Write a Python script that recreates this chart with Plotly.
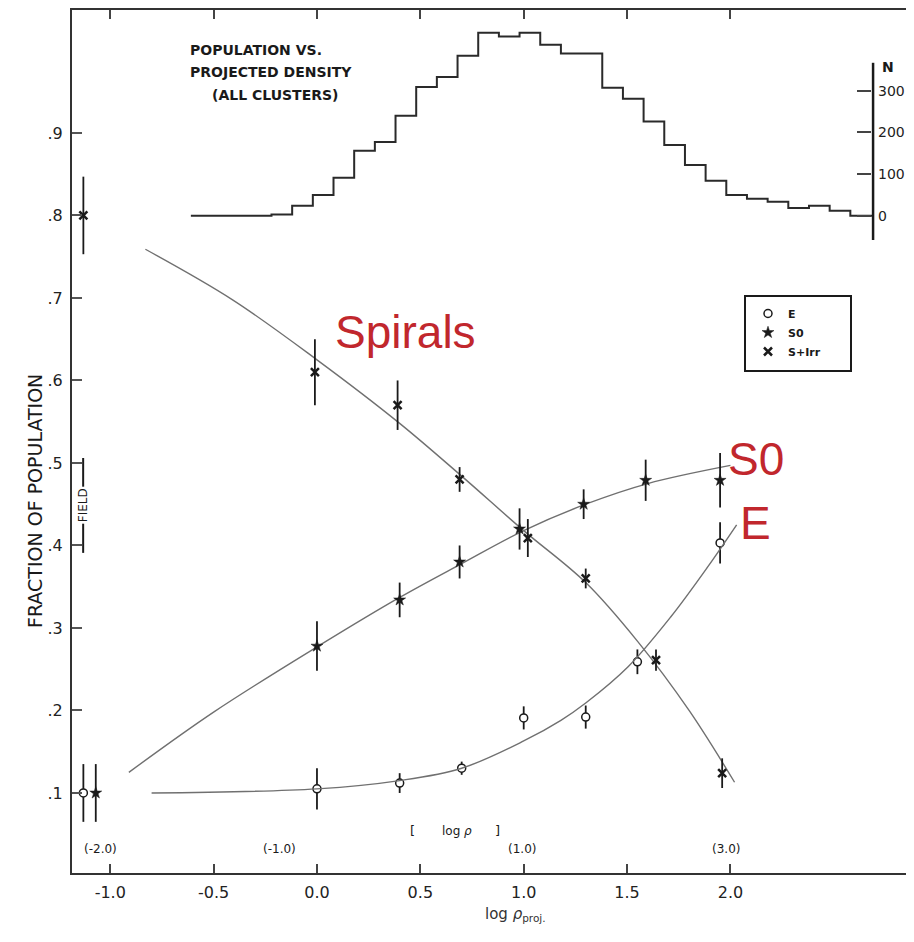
import plotly.graph_objects as go

# ---------------- data ----------------
# Elliptical (E) fractions, first point = field
e_x = [-1.13, 0.00, 0.40, 0.70, 1.00, 1.30, 1.55, 1.95]
e_y = [0.100, 0.105, 0.112, 0.130, 0.191, 0.192, 0.259, 0.403]
e_err = [0.035, 0.025, 0.012, 0.008, 0.014, 0.014, 0.015, 0.025]

# S0 fractions
s0_x = [-1.07, 0.00, 0.40, 0.69, 0.98, 1.29, 1.59, 1.95]
s0_y = [0.100, 0.278, 0.334, 0.380, 0.420, 0.450, 0.479, 0.479]
s0_err = [0.035, 0.030, 0.021, 0.020, 0.025, 0.018, 0.025, 0.033]

# Spiral + Irregular fractions
sp_x = [-1.13, -0.01, 0.39, 0.69, 1.02, 1.30, 1.64, 1.96]
sp_y = [0.800, 0.610, 0.570, 0.480, 0.409, 0.360, 0.261, 0.124]
sp_err = [0.047, 0.040, 0.030, 0.015, 0.023, 0.012, 0.013, 0.018]

# smooth fitted curves
sp_curve_x = [-0.83, -0.41, 0.00, 0.40, 0.70, 1.00, 1.30, 1.55, 1.80, 2.02]
sp_curve_y = [0.759, 0.698, 0.625, 0.548, 0.484, 0.418, 0.355, 0.284, 0.200, 0.113]
s0_curve_x = [-0.91, -0.50, 0.00, 0.40, 0.70, 1.00, 1.30, 1.60, 2.00]
s0_curve_y = [0.125, 0.198, 0.277, 0.337, 0.378, 0.418, 0.450, 0.475, 0.497]
e_curve_x = [-0.80, 0.00, 0.40, 0.70, 1.00, 1.18, 1.30, 1.505, 1.71, 1.89, 2.03]
e_curve_y = [0.100, 0.105, 0.115, 0.130, 0.163, 0.188, 0.209, 0.253, 0.313, 0.374, 0.425]

# inset histogram: number of galaxies per 0.1 dex bin (left bin edges)
hist_edges = [-0.22, -0.12, -0.02, 0.08, 0.18, 0.28, 0.38, 0.48, 0.58, 0.68,
              0.78, 0.88, 0.98, 1.08, 1.18, 1.28, 1.38, 1.48, 1.58, 1.68,
              1.78, 1.88, 1.98, 2.08, 2.18, 2.28, 2.38, 2.48]
hist_counts = [3, 24, 50, 91, 156, 177, 240, 309, 333, 384,
               439, 430, 439, 410, 389, 389, 307, 281, 226, 170,
               122, 84, 50, 41, 34, 19, 24, 12]
hist_last_edge = 2.58
hist_base_start = -0.61
hist_base_end = 2.69

x_ticks = [-1.0, -0.5, 0.0, 0.5, 1.0, 1.5, 2.0]
x_ticklabels = ["-1.0", "-0.5", "0.0", "0.5", "1.0", "1.5", "2.0"]
y_ticks = [0.1, 0.2, 0.3, 0.4, 0.5, 0.6, 0.7, 0.8, 0.9]
y_ticklabels = [".1", ".2", ".3", ".4", ".5", ".6", ".7", ".8", ".9"]
n_ticks = [0, 100, 200, 300]
n_ticklabels = ["0", "100", "200", "300"]
# 3-D density labels along the bottom axis
rho_label_x = [-1.045, -0.18, 0.99, 1.98]
rho_labels = ["(-2.0)", "(-1.0)", "(1.0)", "(3.0)"]

# ---------------- layout helpers ----------------
OFF = 8                      # page body margin
PW, PH = 914, 942            # window size
W, H = PW - OFF, PH - OFF    # figure size
# plot area in page pixels
PL, PR, PT, PB = 72, 914, 10, 873
L = PL - OFF
T = PT - OFF
R = W - (PR - OFF)
B = H - (PB - OFF)


def xp(px):
    return (px - PL) / (PR - PL)


def yp(py):
    return (PB - py) / (PB - PT)


INK = "#1a1a1a"
CURVE = "#707070"
RED = "#C1272D"
FONT = "DejaVu Sans"

fig = go.Figure()

# curves (E curve on the mirrored right axis, which has the same scale)
fig.add_trace(go.Scatter(x=sp_curve_x, y=sp_curve_y, mode="lines",
                         line=dict(color=CURVE, width=1.4, shape="spline", smoothing=1.0),
                         showlegend=False, hoverinfo="skip"))
fig.add_trace(go.Scatter(x=s0_curve_x, y=s0_curve_y, mode="lines",
                         line=dict(color=CURVE, width=1.4, shape="spline", smoothing=1.0),
                         showlegend=False, hoverinfo="skip"))
fig.add_trace(go.Scatter(x=e_curve_x, y=e_curve_y, mode="lines", yaxis="y3",
                         line=dict(color=CURVE, width=1.4, shape="spline", smoothing=1.0),
                         showlegend=False, hoverinfo="skip"))

# points with error bars
fig.add_trace(go.Scatter(
    x=e_x, y=e_y, mode="markers", name="<b>E</b>",
    marker=dict(symbol="circle", size=8, color="white", line=dict(color=INK, width=1.5)),
    error_y=dict(type="data", array=e_err, visible=True, width=0, thickness=1.8, color=INK)))
fig.add_trace(go.Scatter(
    x=s0_x, y=s0_y, mode="markers", name="<b>S0</b>",
    marker=dict(symbol="star", size=9, color=INK, line=dict(color=INK, width=0.5)),
    error_y=dict(type="data", array=s0_err, visible=True, width=0, thickness=1.8, color=INK)))
fig.add_trace(go.Scatter(
    x=sp_x, y=sp_y, mode="markers", name="<b>S+Irr</b>",
    marker=dict(symbol="x-thin-open", size=8, color=INK, line=dict(color=INK, width=2.5)),
    error_y=dict(type="data", array=sp_err, visible=True, width=0, thickness=1.8, color=INK)))

# inset histogram (step line on its own y axis)
hx = [hist_base_start] + hist_edges + [hist_last_edge, hist_base_end]
hy = [0] + hist_counts + [0, 0]
fig.add_trace(go.Scatter(x=hx, y=hy, yaxis="y2", mode="lines",
                         line=dict(color="#2a2a2a", width=2, shape="hv"),
                         showlegend=False, hoverinfo="skip"))

tickfont = dict(family=FONT, size=16, color="#222")
yr = [0.003, 1.049]

fig.update_layout(
    width=W, height=H,
    margin=dict(l=L, r=R, t=T, b=B),
    paper_bgcolor="white", plot_bgcolor="rgba(0,0,0,0)",
    xaxis=dict(range=[-1.185, 2.888], tickvals=x_ticks, ticktext=x_ticklabels,
               ticks="inside", ticklen=9, tickwidth=1.5, tickcolor="#444",
               showline=True, linewidth=2, linecolor="#333", mirror="ticks",
               showgrid=False, zeroline=False, tickfont=tickfont, ticklabelstandoff=4),
    yaxis=dict(range=yr, tickvals=y_ticks, ticktext=y_ticklabels,
               ticks="inside", ticklen=10, tickwidth=1.5, tickcolor="#555",
               showline=True, linewidth=2, linecolor="#333", mirror=False,
               showgrid=False, zeroline=False, tickfont=tickfont, ticklabelstandoff=4),
    yaxis3=dict(overlaying="y", side="right", anchor="x", range=yr,
                tickvals=y_ticks, ticks="inside", ticklen=8, tickwidth=1.5, tickcolor="#555",
                showticklabels=False, showline=False, showgrid=False, zeroline=False),
    yaxis2=dict(domain=[yp(240), 1.0], range=[-58, 493.6], anchor="free", position=xp(871),
                side="right", tickvals=n_ticks, ticktext=n_ticklabels, ticks="inside",
                ticklen=14, tickwidth=1.5, tickcolor="#444", showline=False,
                showgrid=False, zeroline=False, ticklabelstandoff=6,
                tickfont=dict(family=FONT, size=14, color="#222")),
    legend=dict(x=xp(748), y=yp(299), xanchor="left", yanchor="top",
                bgcolor="rgba(0,0,0,0)", borderwidth=0,
                font=dict(family=FONT, size=11, color=INK), itemwidth=30,
                tracegroupgap=0),
    showlegend=True,
)

shapes = [
    # legend box
    dict(type="rect", xref="paper", yref="paper", x0=xp(745), x1=xp(851), y0=yp(371), y1=yp(296),
         line=dict(color=INK, width=2)),
    # N-axis line of the inset
    dict(type="line", xref="x", yref="y2", x0=hist_base_end, x1=hist_base_end, y0=-58, y1=367,
         line=dict(color=INK, width=2.5)),
    # FIELD bracket
    dict(type="line", xref="x", yref="y", x0=-1.131, x1=-1.131, y0=0.391, y1=0.506,
         line=dict(color=INK, width=2)),
]
fig.update_layout(shapes=shapes)

ann = []
small = dict(family=FONT, size=14, color=INK)
ann.append(dict(x=xp(188), y=yp(50), xref="paper", yref="paper", text="<b>POPULATION VS.</b>",
                showarrow=False, xanchor="left", yanchor="middle", font=small))
ann.append(dict(x=xp(188), y=yp(72), xref="paper", yref="paper", text="<b>PROJECTED DENSITY</b>",
                showarrow=False, xanchor="left", yanchor="middle", font=small))
ann.append(dict(x=xp(210), y=yp(95), xref="paper", yref="paper", text="<b>(ALL CLUSTERS)</b>",
                showarrow=False, xanchor="left", yanchor="middle", font=small))
ann.append(dict(x=xp(888), y=yp(67), xref="paper", yref="paper", text="<b>N</b>",
                showarrow=False, xanchor="center", yanchor="middle", font=small))
# FIELD label
ann.append(dict(x=-1.131, y=0.449, xref="x", yref="y", text="FIELD", textangle=-90,
                showarrow=False, bgcolor="white", font=dict(family=FONT, size=12, color=INK)))
# y-axis title
ann.append(dict(x=xp(22), y=yp(501), xref="paper", yref="paper", text="FRACTION OF POPULATION",
                textangle=-90, showarrow=False, font=dict(family=FONT, size=19, color=INK)))
# x-axis title
ann.append(dict(x=xp(515), y=yp(926), xref="paper", yref="paper",
                text="log <i>ρ</i><sub>proj.</sub>",
                showarrow=False, font=dict(family=FONT, size=15, color="#333")))
# 3-D density labels
for lx, lt in zip(rho_label_x, rho_labels):
    ann.append(dict(x=lx, y=yp(858), xref="x", yref="paper", text=lt, showarrow=False,
                    font=dict(family=FONT, size=12, color=INK)))
ann.append(dict(x=xp(412), y=yp(840), xref="paper", yref="paper", text="[", showarrow=False,
                font=dict(family=FONT, size=13, color=INK)))
ann.append(dict(x=xp(457), y=yp(840), xref="paper", yref="paper", text="log <i>ρ</i>", showarrow=False,
                font=dict(family=FONT, size=12, color=INK)))
ann.append(dict(x=xp(497), y=yp(840), xref="paper", yref="paper", text="]", showarrow=False,
                font=dict(family=FONT, size=13, color=INK)))
# red class labels
red = dict(family="Liberation Sans", size=46, color=RED)
ann.append(dict(x=xp(405), y=yp(332), xref="paper", yref="paper", text="Spirals",
                showarrow=False, font=red))
ann.append(dict(x=xp(786), y=yp(459), xref="paper", yref="paper", text="S0",
                showarrow=False, font=red))
ann.append(dict(x=xp(773), y=yp(523), xref="paper", yref="paper", text="E",
                showarrow=False, font=red))
fig.update_layout(annotations=ann)

fig.write_html("out.html")
